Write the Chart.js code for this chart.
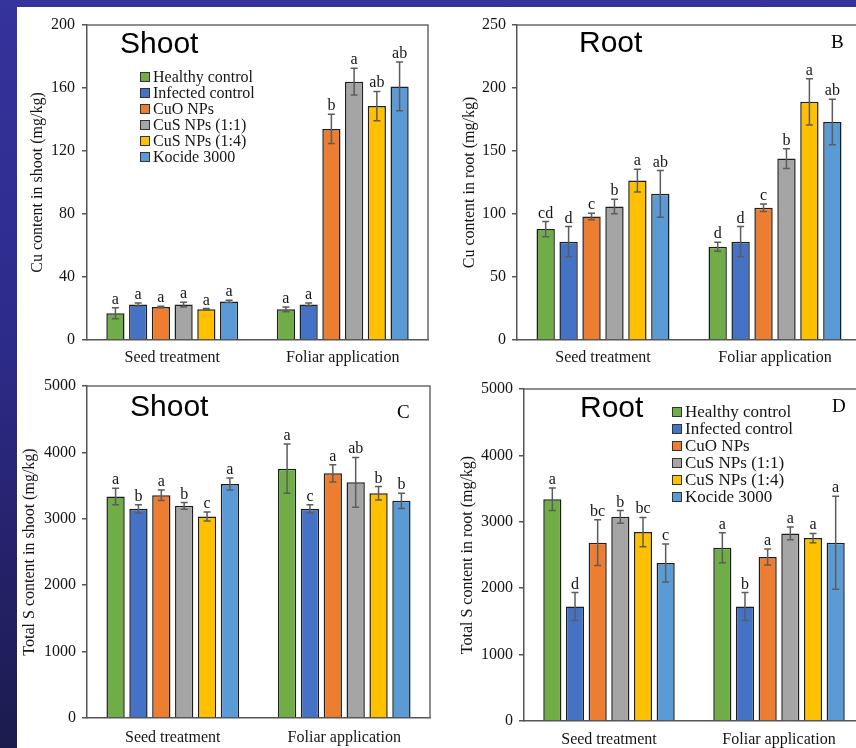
<!DOCTYPE html>
<html>
<head>
<meta charset="utf-8">
<script src="https://cdn.jsdelivr.net/npm/chart.js@4.4.0/dist/chart.umd.min.js"></script>
<style>
  html, body { margin: 0; padding: 0; width: 856px; height: 748px; overflow: hidden; }
  body { position: relative; background: linear-gradient(to bottom, #35339c 0%, #2d2b8a 45%, #1c1b4e 100%); }
  #sheet { position: absolute; left: 17px; top: 7px; width: 839px; height: 741px; background: #ffffff; }
  canvas { position: absolute; }
</style>
</head>
<body>
<div id="sheet"></div>
<canvas id="cuShoot" width="413" height="363" style="left:17px;top:7px"></canvas>
<canvas id="cuRoot" width="440" height="363" style="left:430px;top:7px"></canvas>
<canvas id="sShoot" width="420" height="378" style="left:17px;top:370px"></canvas>
<canvas id="sRoot" width="440" height="378" style="left:430px;top:370px"></canvas>
<script>
// ---- Groups and treatments ----
const categories = ['Seed treatment', 'Foliar application'];
const treatments = ['Healthy control', 'Infected control', 'CuO NPs', 'CuS NPs (1:1)', 'CuS NPs (1:4)', 'Kocide 3000'];
const treatmentColors = ['#70ad47', '#4472c4', '#ed7d31', '#a5a5a5', '#ffc000', '#5b9bd5'];

// ---- Cu content in shoot (mg/kg), one value per treatment ----
const cuShootSeed = [17, 22.5, 21, 22.5, 19.5, 24.5];
const cuShootFoliar = [19.5, 22.5, 134, 164, 148.5, 161];
const cuShootSeedErr = [3.5, 1, 0.5, 1.5, 0.5, 0.7];
const cuShootFoliarErr = [1.5, 1, 9.3, 8.5, 9.3, 15.5];
const cuShootSeedSig = ['a', 'a', 'a', 'a', 'a', 'a'];
const cuShootFoliarSig = ['a', 'a', 'b', 'a', 'ab', 'ab'];
const cuShootTicks = [0, 40, 80, 120, 160, 200];

// ---- Cu content in root (mg/kg) ----
const cuRootSeed = [88, 78, 98, 106, 126.5, 116];
const cuRootFoliar = [74, 78, 105, 144, 189, 173];
const cuRootSeedErr = [6, 12, 2.6, 5.8, 9, 18.5];
const cuRootFoliarErr = [3.6, 12, 3, 7.8, 18.4, 18];
const cuRootSeedSig = ['cd', 'd', 'c', 'b', 'a', 'ab'];
const cuRootFoliarSig = ['d', 'd', 'c', 'b', 'a', 'ab'];
const cuRootTicks = [0, 50, 100, 150, 200, 250];

// ---- Total S content in shoot (mg/kg) ----
const sShootSeed = [3335, 3150, 3355, 3195, 3035, 3525];
const sShootFoliar = [3755, 3150, 3685, 3550, 3385, 3270];
const sShootSeedErr = [125, 63, 80, 50, 68, 90];
const sShootFoliarErr = [370, 63, 130, 375, 100, 113];
const sShootSeedSig = ['a', 'b', 'a', 'b', 'c', 'a'];
const sShootFoliarSig = ['a', 'c', 'a', 'ab', 'b', 'b'];
const sTicks = [0, 1000, 2000, 3000, 4000, 5000];

// ---- Total S content in root (mg/kg) ----
const sRootSeed = [3340, 1725, 2685, 3075, 2845, 2380];
const sRootFoliar = [2610, 1725, 2470, 2825, 2755, 2685];
const sRootSeedErr = [170, 210, 345, 95, 220, 285];
const sRootFoliarErr = [225, 210, 120, 95, 70, 700];
const sRootSeedSig = ['a', 'd', 'bc', 'b', 'bc', 'c'];
const sRootFoliarSig = ['a', 'b', 'a', 'a', 'a', 'a'];

const SERIF = '"Liberation Serif", "Times New Roman", serif';
const SANS = '"Liberation Sans", Arial, sans-serif';
const INK = '#151515';
const AXIS = '#555555';

// Error bars, significance letters, plot frame, panel captions and legend
const panelDecor = {
  id: 'panelDecor',
  afterDatasetsDraw(chart) {
    const ctx = chart.ctx;
    const y = chart.scales.y;
    ctx.save();
    chart.data.datasets.forEach((ds, i) => {
      const meta = chart.getDatasetMeta(i);
      meta.data.forEach((bar, j) => {
        const v = ds.data[j], e = ds.errors[j];
        const top = y.getPixelForValue(v + e);
        const bot = y.getPixelForValue(v - e);
        ctx.strokeStyle = '#5c5c5c';
        ctx.lineWidth = 1.5;
        ctx.beginPath();
        ctx.moveTo(bar.x, top); ctx.lineTo(bar.x, bot);
        ctx.moveTo(bar.x - 3.5, top); ctx.lineTo(bar.x + 3.5, top);
        ctx.moveTo(bar.x - 3.5, bot); ctx.lineTo(bar.x + 3.5, bot);
        ctx.stroke();
        ctx.fillStyle = INK;
        ctx.font = '16px ' + SERIF;
        ctx.textAlign = 'center';
        ctx.textBaseline = 'alphabetic';
        ctx.fillText(ds.letters[j], bar.x, top - 4);
      });
    });
    ctx.restore();
  },
  afterDraw(chart, args, opts) {
    const ctx = chart.ctx;
    const a = chart.chartArea;
    ctx.save();
    // top and right edges of the plot frame
    ctx.strokeStyle = '#6a6a6a';
    ctx.lineWidth = 1.5;
    ctx.beginPath();
    ctx.moveTo(a.left, a.top); ctx.lineTo(a.right, a.top); ctx.lineTo(a.right, a.bottom);
    ctx.stroke();
    // panel caption
    ctx.fillStyle = '#000';
    ctx.textAlign = 'left';
    ctx.textBaseline = 'alphabetic';
    ctx.font = '30px ' + SANS;
    ctx.fillText(opts.title, a.left + opts.titleDx, a.top + opts.titleDy);
    if (opts.tag) {
      ctx.font = '19px ' + SERIF;
      ctx.fillText(opts.tag, opts.tagX, opts.tagY);
    }
    // legend
    if (opts.legend) {
      const L = opts.legend;
      ctx.font = L.size + 'px ' + SERIF;
      ctx.textBaseline = 'middle';
      chart.data.datasets.forEach((ds, i) => {
        const cy = L.y + i * L.step;
        ctx.fillStyle = ds.backgroundColor;
        ctx.fillRect(L.x, cy - 5, 10, 10);
        ctx.strokeStyle = '#333';
        ctx.lineWidth = 1;
        ctx.strokeRect(L.x + 0.5, cy - 4.5, 9, 9);
        ctx.fillStyle = INK;
        ctx.fillText(ds.label, L.x + 13, cy + 1);
      });
    }
    ctx.restore();
  }
};

function makeDatasets(seed, foliar, seedErr, foliarErr, seedSig, foliarSig) {
  return treatments.map((name, i) => ({
    label: name,
    data: [seed[i], foliar[i]],
    errors: [seedErr[i], foliarErr[i]],
    letters: [seedSig[i], foliarSig[i]],
    backgroundColor: treatmentColors[i],
    borderColor: '#1e1e1e',
    borderWidth: 1.5,
    categoryPercentage: 0.8,
    barPercentage: 0.8
  }));
}

function panel(id, cfg) {
  new Chart(document.getElementById(id), {
    type: 'bar',
    data: { labels: categories, datasets: cfg.datasets },
    plugins: [panelDecor],
    options: {
      responsive: false,
      animation: false,
      layout: { padding: cfg.padding },
      plugins: {
        legend: { display: false },
        tooltip: { enabled: false },
        panelDecor: cfg.decor
      },
      scales: {
        x: {
          grid: { display: false, drawTicks: false, tickLength: 0 },
          border: { color: AXIS, width: 1.5 },
          ticks: { color: INK, font: { family: SERIF, size: 16 }, padding: cfg.xPad },
          afterFit(s) { s.height = cfg.xHeight; }
        },
        y: {
          min: cfg.ticks[0],
          max: cfg.ticks[cfg.ticks.length - 1],
          afterBuildTicks(s) { s.ticks = cfg.ticks.map(v => ({ value: v })); },
          grid: { drawOnChartArea: false, drawTicks: true, tickLength: 5, color: AXIS, lineWidth: 1.5 },
          border: { color: AXIS, width: 1.5 },
          ticks: {
            color: INK, font: { family: SERIF, size: 16 }, padding: cfg.yPad,
            callback: v => String(v)
          },
          title: {
            display: true, text: cfg.yTitle, color: INK,
            font: { family: SERIF, size: 16 }, padding: { top: cfg.titlePad, bottom: 0 }
          },
          afterFit(s) { s.width = cfg.yWidth; }
        }
      }
    }
  });
}

panel('cuShoot', {
  datasets: makeDatasets(cuShootSeed, cuShootFoliar, cuShootSeedErr, cuShootFoliarErr, cuShootSeedSig, cuShootFoliarSig),
  ticks: cuShootTicks,
  yTitle: 'Cu content in shoot (mg/kg)',
  padding: { left: 0, top: 18, right: 2, bottom: 0 },
  yWidth: 70, xHeight: 30, xPad: 8, yPad: 7, titlePad: 11,
  decor: { title: 'Shoot', titleDx: 33, titleDy: 28, legend: { x: 123, y: 70, step: 16, size: 16 } }
});

panel('cuRoot', {
  datasets: makeDatasets(cuRootSeed, cuRootFoliar, cuRootSeedErr, cuRootFoliarErr, cuRootSeedSig, cuRootFoliarSig),
  ticks: cuRootTicks,
  yTitle: 'Cu content in root (mg/kg)',
  padding: { left: 0, top: 18, right: 9, bottom: 0 },
  yWidth: 87, xHeight: 30, xPad: 8, yPad: 6, titlePad: 30,
  decor: { title: 'Root', titleDx: 62, titleDy: 27, tag: 'B', tagX: 401, tagY: 41 }
});

panel('sShoot', {
  datasets: makeDatasets(sShootSeed, sShootFoliar, sShootSeedErr, sShootFoliarErr, sShootSeedSig, sShootFoliarSig),
  ticks: sTicks,
  yTitle: 'Total S content in shoot (mg/kg)',
  padding: { left: 0, top: 16, right: 7, bottom: 0 },
  yWidth: 70, xHeight: 30, xPad: 10, yPad: 6, titlePad: 3,
  decor: { title: 'Shoot', titleDx: 43, titleDy: 30, tag: 'C', tagX: 380, tagY: 48 }
});

panel('sRoot', {
  datasets: makeDatasets(sRootSeed, sRootFoliar, sRootSeedErr, sRootFoliarErr, sRootSeedSig, sRootFoliarSig),
  ticks: sTicks,
  yTitle: 'Total S content in root (mg/kg)',
  padding: { left: 0, top: 19, right: 6, bottom: 0 },
  yWidth: 94, xHeight: 27, xPad: 9, yPad: 6, titlePad: 28,
  decor: { title: 'Root', titleDx: 56, titleDy: 28, tag: 'D', tagX: 402, tagY: 42, legend: { x: 242, y: 42, step: 17, size: 17 } }
});
</script>
</body>
</html>
